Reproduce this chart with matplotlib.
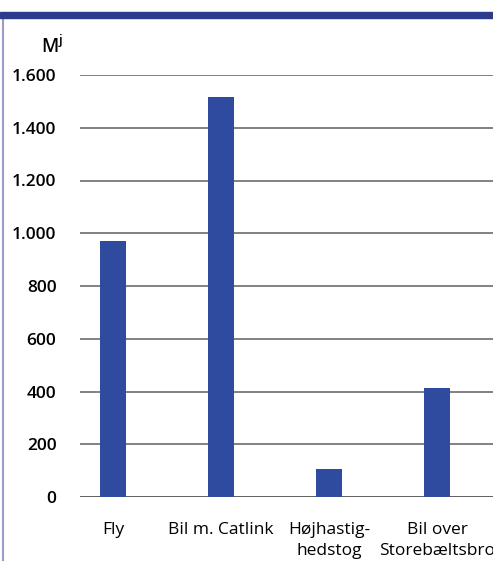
import matplotlib.pyplot as plt
from matplotlib.patches import Rectangle
from matplotlib.lines import Line2D

# energy use per trip, MJ
categories = ["Fly", "Bil m. Catlink", "Højhastig-\nhedstog", "Bil over\nStorebæltsbro"]
values = [970, 1515, 106, 413]
yticks = [0, 200, 400, 600, 800, 1000, 1200, 1400, 1600]
ytick_labels = ["0", "200", "400", "600", "800", "1.000", "1.200", "1.400", "1.600"]

plt.rcParams["font.family"] = ["Open Sans", "DejaVu Sans"]

fig = plt.figure(figsize=(4.93, 5.71), dpi=100)
ax = fig.add_axes([80 / 493, 1 - 497 / 571, 1 - 80 / 493, (497 - 75) / 571])

x = list(range(len(categories)))
ax.bar(x, values, width=0.24, color="#2f4b9f", zorder=3)

ax.set_ylim(0, 1600)
ax.set_xlim(-0.306, 3.518)
ax.set_yticks(yticks)
ax.set_yticklabels(ytick_labels, fontsize=12.5, fontweight="semibold")
ax.set_xticks(x)
ax.set_xticklabels(categories, fontsize=12.5, linespacing=1.45)
ax.tick_params(axis="y", length=0, pad=17)
ax.tick_params(axis="x", length=0, pad=18)

for spine in ax.spines.values():
    spine.set_visible(False)

for v in yticks:
    ax.axhline(v, color="#5f5f5f", lw=1.4 if v == 0 else 1.1, zorder=1)

# unit label above the axis
fig.text(63 / 493, 1 - 47 / 571, r"M$^{\mathregular{j}}$", ha="right", va="center",
         fontsize=13.5, fontweight="semibold")

# frame decorations: top band and left rule
fig.patches.append(Rectangle((0, 1 - 18 / 571), 1, 6 / 571, transform=fig.transFigure,
                             color="#2e3a8c", zorder=5))
fig.add_artist(Line2D([2.5 / 493, 2.5 / 493], [0.02, 1 - 18 / 571], transform=fig.transFigure,
                      color="#9c9cc8", lw=1.5))

fig.savefig("out.png", dpi=100)
plt.close(fig)
